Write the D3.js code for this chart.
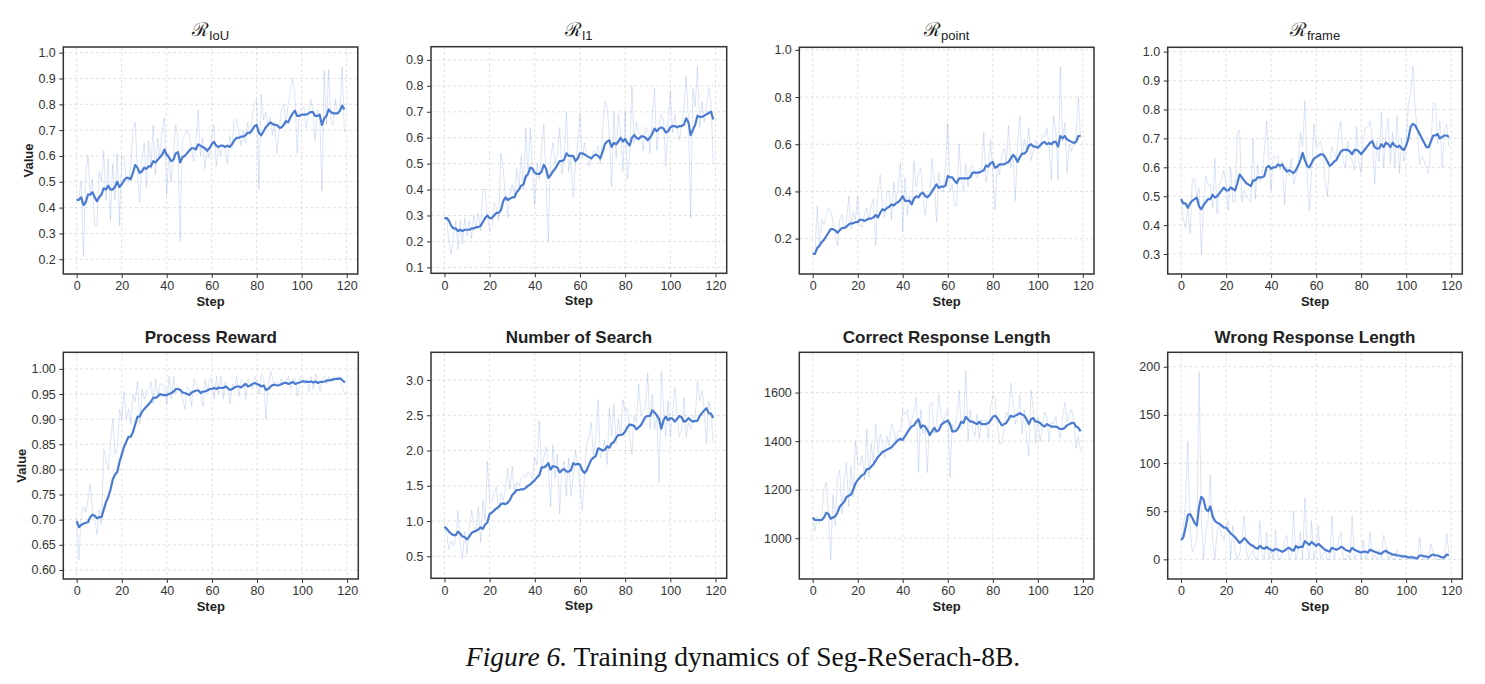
<!DOCTYPE html>
<html><head><meta charset="utf-8">
<script src="https://cdn.jsdelivr.net/npm/d3@7"></script>
<style>body{margin:0;background:#fff}</style></head>
<body>
<svg id="c" width="1485" height="684"></svg>
<script>
const steps = d3.range(120);

const iouRaw = [0.43,0.44,0.50,0.215,0.52,0.60,0.45,0.51,0.33,0.33,
0.54,0.50,0.62,0.43,0.59,0.35,0.57,0.43,0.61,0.33,
0.60,0.59,0.52,0.50,0.56,0.70,0.73,0.55,0.42,0.58,
0.65,0.48,0.66,0.55,0.72,0.53,0.67,0.60,0.70,0.75,
0.45,0.61,0.50,0.59,0.72,0.67,0.27,0.66,0.68,0.70,
0.68,0.63,0.58,0.65,0.78,0.60,0.67,0.55,0.63,0.59,
0.67,0.72,0.56,0.64,0.60,0.64,0.63,0.57,0.68,0.63,
0.74,0.74,0.70,0.64,0.70,0.65,0.73,0.68,0.74,0.81,
0.82,0.47,0.84,0.74,0.77,0.72,0.75,0.68,0.73,0.61,
0.70,0.78,0.80,0.72,0.80,0.85,0.90,0.84,0.61,0.77,
0.78,0.79,0.71,0.75,0.82,0.78,0.66,0.78,0.76,0.465,
0.93,0.72,0.935,0.73,0.72,0.82,0.76,0.78,0.945,0.69];
const iouSmooth = [0.43,0.43,0.44,0.41,0.42,0.45,0.45,0.46,0.44,0.425,
0.44,0.45,0.475,0.47,0.485,0.47,0.47,0.48,0.50,0.48,
0.49,0.505,0.515,0.515,0.51,0.535,0.565,0.555,0.535,0.54,
0.555,0.55,0.56,0.56,0.58,0.575,0.585,0.595,0.605,0.625,
0.605,0.595,0.58,0.585,0.61,0.615,0.575,0.595,0.60,0.61,
0.62,0.63,0.63,0.625,0.645,0.64,0.635,0.63,0.62,0.63,
0.645,0.655,0.64,0.635,0.64,0.64,0.635,0.64,0.635,0.645,
0.66,0.67,0.67,0.675,0.675,0.68,0.69,0.69,0.70,0.715,
0.72,0.69,0.68,0.695,0.71,0.72,0.73,0.725,0.72,0.72,
0.71,0.71,0.72,0.735,0.73,0.75,0.765,0.775,0.755,0.755,
0.76,0.76,0.76,0.765,0.77,0.77,0.755,0.755,0.76,0.72,
0.745,0.755,0.78,0.77,0.765,0.765,0.765,0.775,0.795,0.78];

const l1Raw = [0.29,0.28,0.20,0.15,0.22,0.28,0.17,0.28,0.19,0.29,
0.22,0.28,0.21,0.30,0.25,0.31,0.24,0.40,0.40,0.30,
0.24,0.26,0.35,0.33,0.28,0.54,0.48,0.37,0.29,0.38,
0.42,0.38,0.48,0.41,0.53,0.40,0.64,0.45,0.64,0.46,
0.34,0.50,0.44,0.56,0.65,0.43,0.20,0.52,0.58,0.50,
0.54,0.64,0.46,0.52,0.70,0.47,0.53,0.37,0.50,0.58,
0.69,0.52,0.58,0.53,0.49,0.52,0.55,0.54,0.57,0.50,
0.62,0.74,0.72,0.62,0.41,0.70,0.52,0.69,0.62,0.47,
0.70,0.44,0.54,0.80,0.58,0.66,0.62,0.61,0.55,0.64,
0.63,0.54,0.68,0.79,0.55,0.65,0.69,0.66,0.49,0.66,
0.78,0.62,0.69,0.63,0.59,0.65,0.71,0.84,0.67,0.29,
0.79,0.72,0.875,0.64,0.74,0.66,0.72,0.79,0.74,0.50];
const l1Smooth = [0.29,0.29,0.28,0.26,0.25,0.25,0.24,0.245,0.24,0.245,
0.245,0.245,0.25,0.25,0.255,0.255,0.26,0.275,0.29,0.30,
0.29,0.29,0.30,0.31,0.31,0.32,0.355,0.37,0.36,0.365,
0.37,0.37,0.39,0.40,0.415,0.42,0.45,0.46,0.485,0.48,
0.465,0.46,0.46,0.47,0.495,0.48,0.445,0.455,0.47,0.48,
0.495,0.51,0.51,0.515,0.54,0.53,0.53,0.53,0.51,0.52,
0.54,0.54,0.535,0.53,0.525,0.52,0.53,0.535,0.53,0.52,
0.545,0.575,0.585,0.59,0.565,0.58,0.575,0.585,0.60,0.585,
0.595,0.58,0.57,0.60,0.61,0.60,0.595,0.605,0.605,0.60,
0.59,0.60,0.615,0.635,0.625,0.635,0.64,0.635,0.62,0.625,
0.64,0.645,0.645,0.64,0.645,0.645,0.65,0.675,0.66,0.61,
0.63,0.65,0.685,0.68,0.68,0.685,0.69,0.695,0.70,0.67];

const pointRaw = [0.14,0.13,0.34,0.16,0.28,0.26,0.30,0.33,0.32,0.27,
0.22,0.17,0.28,0.30,0.24,0.27,0.38,0.24,0.31,0.28,
0.38,0.25,0.25,0.30,0.33,0.28,0.34,0.37,0.17,0.40,
0.47,0.34,0.29,0.40,0.40,0.28,0.44,0.36,0.42,0.52,
0.23,0.46,0.30,0.38,0.34,0.53,0.42,0.48,0.50,0.37,
0.30,0.39,0.38,0.54,0.45,0.27,0.48,0.40,0.40,0.51,
0.69,0.40,0.43,0.34,0.34,0.60,0.45,0.40,0.52,0.42,
0.50,0.51,0.47,0.46,0.50,0.49,0.65,0.44,0.50,0.62,
0.48,0.32,0.52,0.47,0.56,0.58,0.52,0.68,0.50,0.55,
0.36,0.60,0.72,0.55,0.62,0.57,0.67,0.53,0.57,0.62,
0.59,0.58,0.64,0.63,0.67,0.59,0.45,0.72,0.65,0.45,
0.93,0.61,0.69,0.48,0.60,0.57,0.60,0.64,0.80,0.63];
const pointSmooth = [0.135,0.135,0.16,0.17,0.185,0.195,0.21,0.225,0.24,0.24,
0.235,0.225,0.235,0.245,0.245,0.25,0.26,0.265,0.265,0.27,
0.27,0.28,0.28,0.275,0.28,0.285,0.285,0.29,0.30,0.29,
0.31,0.325,0.32,0.33,0.335,0.345,0.34,0.35,0.355,0.365,
0.38,0.36,0.36,0.36,0.345,0.37,0.38,0.375,0.39,0.395,
0.38,0.375,0.385,0.40,0.415,0.43,0.415,0.42,0.42,0.425,
0.465,0.46,0.46,0.445,0.435,0.455,0.455,0.455,0.455,0.455,
0.46,0.48,0.48,0.48,0.48,0.485,0.49,0.51,0.505,0.52,
0.525,0.50,0.505,0.515,0.515,0.515,0.52,0.525,0.54,0.555,
0.545,0.525,0.545,0.56,0.56,0.57,0.595,0.60,0.59,0.59,
0.585,0.595,0.605,0.61,0.60,0.605,0.60,0.61,0.61,0.59,
0.635,0.625,0.635,0.62,0.615,0.61,0.605,0.61,0.635,0.635];

const frameRaw = [0.49,0.42,0.39,0.47,0.37,0.56,0.56,0.50,0.53,0.30,
0.48,0.57,0.54,0.54,0.46,0.63,0.44,0.54,0.56,0.59,
0.54,0.45,0.60,0.48,0.48,0.72,0.73,0.48,0.52,0.50,
0.49,0.48,0.70,0.49,0.61,0.55,0.57,0.66,0.76,0.62,
0.52,0.64,0.63,0.64,0.59,0.62,0.47,0.60,0.57,0.63,
0.54,0.57,0.60,0.72,0.67,0.83,0.58,0.45,0.58,0.75,
0.67,0.68,0.69,0.65,0.55,0.50,0.62,0.67,0.65,0.63,
0.72,0.76,0.62,0.60,0.69,0.64,0.62,0.59,0.74,0.61,
0.58,0.70,0.74,0.74,0.76,0.70,0.54,0.69,0.62,0.79,
0.60,0.71,0.77,0.61,0.72,0.60,0.78,0.58,0.70,0.62,
0.68,0.82,0.86,0.95,0.80,0.73,0.61,0.64,0.62,0.60,
0.58,0.68,0.82,0.82,0.68,0.76,0.60,0.73,0.75,0.67];
const frameSmooth = [0.49,0.475,0.475,0.46,0.475,0.485,0.49,0.495,0.465,0.455,
0.47,0.48,0.49,0.49,0.505,0.495,0.50,0.51,0.52,0.53,
0.52,0.52,0.53,0.525,0.52,0.545,0.575,0.565,0.555,0.545,
0.54,0.535,0.555,0.555,0.565,0.565,0.565,0.57,0.60,0.605,
0.595,0.60,0.60,0.61,0.605,0.61,0.595,0.585,0.59,0.585,
0.58,0.59,0.605,0.625,0.65,0.625,0.605,0.60,0.615,0.63,
0.635,0.64,0.645,0.645,0.635,0.62,0.605,0.61,0.62,0.625,
0.64,0.655,0.66,0.66,0.66,0.655,0.645,0.66,0.66,0.655,
0.645,0.655,0.665,0.675,0.685,0.69,0.67,0.665,0.665,0.68,
0.67,0.685,0.68,0.67,0.685,0.675,0.67,0.675,0.665,0.66,
0.675,0.70,0.74,0.75,0.745,0.73,0.715,0.70,0.685,0.67,
0.67,0.69,0.71,0.71,0.715,0.70,0.705,0.71,0.71,0.705];

const procRaw = [0.70,0.62,0.71,0.725,0.715,0.74,0.77,0.72,0.70,0.67,
0.72,0.69,0.84,0.82,0.80,0.85,0.90,0.83,0.84,0.92,
0.90,0.955,0.90,0.92,0.89,0.95,0.935,0.975,0.89,0.96,
0.94,0.955,0.96,0.975,0.93,0.98,0.945,0.97,0.97,0.965,
0.93,0.985,0.94,0.985,0.95,0.965,0.96,0.94,0.92,0.965,
0.96,0.925,0.98,0.97,0.96,0.95,0.925,0.98,0.955,0.98,
0.98,0.94,0.985,0.95,0.985,0.94,0.975,0.965,0.93,0.97,
0.96,0.985,0.945,0.98,0.975,0.94,0.98,0.97,0.96,0.985,
0.975,0.95,0.99,0.98,0.90,0.97,0.995,0.98,0.97,0.975,
0.965,0.98,0.97,0.975,0.985,0.96,0.98,0.98,0.945,0.985,
0.98,0.97,0.98,0.955,0.985,0.96,0.99,0.975,0.955,0.98,
0.985,0.97,0.985,0.975,0.985,0.98,0.985,0.975,0.96,0.95];
const procSmooth = [0.697,0.685,0.69,0.692,0.694,0.695,0.705,0.71,0.708,0.703,
0.705,0.705,0.72,0.735,0.745,0.76,0.78,0.79,0.795,0.815,
0.83,0.845,0.855,0.865,0.865,0.875,0.89,0.905,0.905,0.915,
0.92,0.925,0.93,0.935,0.943,0.942,0.945,0.95,0.948,0.948,
0.948,0.95,0.952,0.955,0.96,0.96,0.958,0.953,0.952,0.95,
0.948,0.953,0.955,0.957,0.957,0.952,0.955,0.955,0.957,0.96,
0.96,0.962,0.96,0.963,0.962,0.962,0.965,0.962,0.958,0.96,
0.963,0.965,0.965,0.963,0.967,0.97,0.965,0.967,0.97,0.972,
0.97,0.968,0.965,0.967,0.958,0.96,0.965,0.968,0.968,0.967,
0.968,0.97,0.972,0.972,0.97,0.972,0.974,0.97,0.972,0.973,
0.975,0.975,0.974,0.974,0.975,0.973,0.975,0.972,0.974,0.974,
0.975,0.977,0.977,0.978,0.979,0.98,0.98,0.981,0.977,0.973];

const searchRaw = [0.92,0.80,0.60,0.72,0.65,0.78,1.15,0.70,0.47,0.85,
0.53,0.90,1.15,0.95,0.85,1.20,0.70,1.30,1.00,1.85,
1.30,1.28,1.40,1.48,1.15,1.40,1.30,1.45,1.75,1.45,
1.78,1.40,1.55,1.50,1.60,1.65,1.62,1.70,1.68,1.60,
1.90,1.80,2.42,1.70,1.90,2.05,1.80,1.20,2.08,1.60,
1.95,1.10,1.75,1.85,1.35,1.90,1.35,1.60,2.00,1.80,
1.50,1.15,1.60,2.10,2.20,2.40,1.90,2.20,2.72,1.90,
2.00,2.15,1.80,2.60,2.20,2.65,2.10,2.45,2.20,2.72,
2.55,2.60,2.20,1.95,2.50,2.40,2.95,2.50,2.55,2.60,
3.10,2.30,2.80,2.30,2.50,1.55,3.12,2.60,2.20,2.70,
2.20,2.50,2.90,2.50,2.20,2.30,2.75,2.20,2.40,2.30,
2.50,2.45,2.98,2.70,2.85,2.60,2.10,2.70,2.55,2.10];
const searchSmooth = [0.92,0.89,0.85,0.82,0.80,0.80,0.85,0.82,0.78,0.77,
0.74,0.78,0.83,0.85,0.86,0.88,0.91,0.89,0.95,0.98,
1.10,1.12,1.15,1.18,1.20,1.24,1.25,1.24,1.26,1.30,
1.37,1.40,1.44,1.44,1.45,1.45,1.47,1.50,1.52,1.55,
1.58,1.62,1.65,1.76,1.76,1.78,1.82,1.73,1.78,1.77,
1.76,1.69,1.72,1.74,1.70,1.70,1.72,1.82,1.80,1.81,
1.80,1.72,1.68,1.72,1.80,1.87,1.90,1.92,2.03,2.02,
2.00,2.01,2.06,2.04,2.10,2.12,2.18,2.22,2.22,2.23,
2.27,2.33,2.37,2.36,2.35,2.30,2.33,2.36,2.42,2.48,
2.49,2.49,2.57,2.54,2.50,2.45,2.31,2.43,2.48,2.43,
2.46,2.45,2.41,2.45,2.49,2.47,2.41,2.42,2.46,2.43,
2.41,2.42,2.42,2.49,2.53,2.57,2.60,2.53,2.52,2.46];

const correctRaw = [1080,1030,1090,1060,1090,1200,1230,1100,910,1180,
1050,1250,1280,1100,1250,1310,1130,1300,1170,1400,
1310,1300,1340,1240,1450,1250,1390,1310,1470,1350,
1430,1390,1330,1420,1380,1470,1450,1400,1440,1440,
1530,1510,1530,1460,1490,1520,1580,1270,1530,1430,
1460,1270,1550,1560,1430,1470,1590,1510,1480,1510,
1530,1250,1470,1450,1500,1610,1450,1460,1690,1400,
1530,1450,1420,1510,1410,1490,1480,1490,1410,1540,
1590,1580,1470,1390,1390,1450,1520,1500,1640,1560,
1470,1500,1590,1430,1530,1410,1340,1610,1530,1390,
1500,1400,1450,1520,1500,1400,1480,1470,1500,1450,
1410,1500,1560,1480,1510,1530,1480,1370,1420,1360];
const correctSmooth = [1085,1075,1075,1075,1075,1085,1105,1100,1080,1085,
1090,1105,1130,1140,1150,1170,1175,1180,1200,1225,
1240,1250,1260,1265,1285,1285,1295,1305,1320,1335,
1345,1355,1360,1365,1370,1375,1385,1395,1405,1410,
1405,1420,1435,1450,1460,1465,1480,1490,1455,1465,
1460,1445,1425,1440,1455,1440,1445,1465,1475,1480,
1485,1470,1440,1440,1445,1460,1480,1475,1500,1490,
1480,1480,1475,1470,1480,1470,1470,1470,1475,1485,
1500,1505,1495,1480,1465,1470,1475,1490,1505,1500,
1505,1510,1515,1510,1505,1490,1470,1490,1495,1480,
1480,1475,1465,1460,1470,1465,1460,1460,1460,1455,
1450,1450,1455,1465,1470,1475,1475,1460,1455,1440];

const wrongRaw = [20,30,60,123,30,8,12,20,195,40,
0,30,40,88,20,0,30,38,25,20,
30,40,0,35,10,0,5,20,45,10,
0,5,10,0,0,40,5,0,28,0,
10,0,30,0,0,5,20,25,0,5,
50,0,10,28,0,64,15,0,40,0,
10,35,0,5,10,0,0,45,0,10,
20,28,0,0,5,0,45,0,5,10,
0,20,0,5,28,0,5,0,10,0,
25,15,0,5,0,0,10,0,0,5,
0,0,5,0,0,0,23,0,0,0,
0,16,8,0,0,0,0,0,27,5];
const wrongSmooth = [20,23,33,46,47,43,38,35,55,65,
62,52,50,55,45,40,38,37,35,33,
33,30,27,25,23,20,17,19,22,20,
17,15,14,12,11,14,12,11,13,11,
10,9,11,10,9,8,9,11,12,10,
9,14,12,13,13,19,17,15,18,16,
14,16,14,12,10,9,8,12,11,10,
11,13,12,10,9,8,12,10,9,8,
7,8,8,7,10,9,8,7,6,6,
8,9,7,6,5,5,4,4,3,3,
3,2,2,2,1.5,1,4,4,3,3,
2,4,5,4,4,3,2,2,5,4];

const xTicks = [0,20,40,60,80,100,120];
const iouTicks = [0.2,0.3,0.4,0.5,0.6,0.7,0.8,0.9,1.0];
const l1Ticks = [0.1,0.2,0.3,0.4,0.5,0.6,0.7,0.8,0.9];
const pointTicks = [0.2,0.4,0.6,0.8,1.0];
const frameTicks = [0.3,0.4,0.5,0.6,0.7,0.8,0.9,1.0];
const procTicks = [0.60,0.65,0.70,0.75,0.80,0.85,0.90,0.95,1.00];
const searchTicks = [0.5,1.0,1.5,2.0,2.5,3.0];
const correctTicks = [1000,1200,1400,1600];
const wrongTicks = [0,50,100,150,200];

const panels = [
 {raw:iouRaw, sm:iouSmooth, math:true, sub:"IoU", yt:iouTicks, fmt:d3.format(".1f"), x0:63.3, x1:357.8, y0:47, y1:274, yd:[0.143,1.022], ylab:true},
 {raw:l1Raw, sm:l1Smooth, math:true, sub:"l1", yt:l1Ticks, fmt:d3.format(".1f"), x0:431, x1:726.7, y0:46.7, y1:273.3, yd:[0.077,0.951]},
 {raw:pointRaw, sm:pointSmooth, math:true, sub:"point", yt:pointTicks, fmt:d3.format(".1f"), x0:799.3, x1:1094, y0:47.3, y1:274, yd:[0.050,1.011]},
 {raw:frameRaw, sm:frameSmooth, math:true, sub:"frame", yt:frameTicks, fmt:d3.format(".1f"), x0:1167.7, x1:1462.3, y0:47.3, y1:274, yd:[0.231,1.015]},
 {raw:procRaw, sm:procSmooth, title:"Process Reward", yt:procTicks, fmt:d3.format(".2f"), x0:63.3, x1:358.3, y0:352.3, y1:579, yd:[0.582,1.033], ylab:true},
 {raw:searchRaw, sm:searchSmooth, title:"Number of Search", yt:searchTicks, fmt:d3.format(".1f"), x0:431, x1:726.7, y0:352.3, y1:578.3, yd:[0.188,3.393]},
 {raw:correctRaw, sm:correctSmooth, title:"Correct Response Length", yt:correctTicks, fmt:d3.format("d"), x0:799.3, x1:1094, y0:352.3, y1:579, yd:[832,1766]},
 {raw:wrongRaw, sm:wrongSmooth, title:"Wrong Response Length", yt:wrongTicks, fmt:d3.format("d"), x0:1167.7, x1:1462.3, y0:352.3, y1:579, yd:[-20.4,215]}
];

const svg = d3.select("#c");
const BLUE = "#4a7bd0";
const SANS = "'Liberation Sans', Arial, Helvetica, sans-serif";

panels.forEach((p, k) => {
  const x = d3.scaleLinear().domain([-5.95,124.95]).range([p.x0,p.x1]);
  const y = d3.scaleLinear().domain(p.yd).range([p.y1,p.y0]);
  const g = svg.append("g");
  g.selectAll(".gx").data(xTicks).join("line")
    .attr("x1",d=>x(d)).attr("x2",d=>x(d)).attr("y1",p.y0).attr("y2",p.y1)
    .attr("stroke","#d9d9d9").attr("stroke-width",0.8).attr("stroke-dasharray","3,2.5");
  g.selectAll(".gy").data(p.yt).join("line")
    .attr("x1",p.x0).attr("x2",p.x1).attr("y1",d=>y(d)).attr("y2",d=>y(d))
    .attr("stroke","#d9d9d9").attr("stroke-width",0.8).attr("stroke-dasharray","3,2.5");
  const line = (arr) => d3.line().x((d,i)=>x(steps[i])).y(d=>y(d))(arr);
  const clipId = "clip" + k;
  svg.append("clipPath").attr("id",clipId).append("rect")
    .attr("x",p.x0).attr("y",p.y0).attr("width",p.x1-p.x0).attr("height",p.y1-p.y0);
  const cg = g.append("g").attr("clip-path","url(#"+clipId+")");
  cg.append("path").attr("d",line(p.raw)).attr("fill","none")
    .attr("stroke",BLUE).attr("stroke-opacity",0.2).attr("stroke-width",1);
  cg.append("path").attr("d",line(p.sm)).attr("fill","none")
    .attr("stroke",BLUE).attr("stroke-width",2.2).attr("stroke-linejoin","round");
  const ax = g.append("g").attr("transform",`translate(0,${p.y1})`)
    .call(d3.axisBottom(x).tickValues(xTicks).tickSize(4).tickPadding(3.5));
  const ay = g.append("g").attr("transform",`translate(${p.x0},0)`)
    .call(d3.axisLeft(y).tickValues(p.yt).tickFormat(p.fmt).tickSize(4).tickPadding(3.5));
  [ax,ay].forEach(a=>{
    a.select(".domain").remove();
    a.selectAll("line").attr("stroke","#333").attr("stroke-width",1);
    a.selectAll("text").attr("fill","#333").style("font-family",SANS).style("font-size","12.5px");
  });
  g.append("rect").attr("x",p.x0).attr("y",p.y0).attr("width",p.x1-p.x0).attr("height",p.y1-p.y0)
    .attr("fill","none").attr("stroke","#333").attr("stroke-width",1.5);
  const cx = (p.x0+p.x1)/2;
  g.append("text").attr("x",cx).attr("y",p.y1+32).attr("text-anchor","middle")
    .style("font-family",SANS).style("font-size","13px").style("font-weight","bold").attr("fill","#222").text("Step");
  if (p.ylab) {
    const ycen = (p.y0+p.y1)/2;
    const lx = p.title ? 26 : 33;
    g.append("text").attr("transform",`translate(${lx},${ycen}) rotate(-90)`).attr("text-anchor","middle")
      .style("font-family",SANS).style("font-size","13px").style("font-weight","bold").attr("fill","#222").text("Value");
  }
  if (p.math) {
    const t = g.append("text").attr("x",cx).attr("y",p.y0-11).attr("text-anchor","middle").attr("fill","#222");
    t.append("tspan").style("font-family","'DejaVu Serif', serif").style("font-size","19px").text("ℛ");
    t.append("tspan").attr("dy",4).style("font-family",SANS).style("font-size","13px").text(p.sub);
  } else {
    g.append("text").attr("x",cx).attr("y",p.y0-9).attr("text-anchor","middle")
      .style("font-family",SANS).style("font-size","17px").style("font-weight","bold").attr("fill","#222").text(p.title);
  }
});

const cap = svg.append("text").attr("x",743).attr("y",666).attr("text-anchor","middle")
  .style("font-family","'Liberation Serif', 'Times New Roman', serif").style("font-size","27.5px").attr("fill","#111");
cap.append("tspan").style("font-style","italic").text("Figure 6.");
cap.append("tspan").text(" Training dynamics of Seg-ReSerach-8B.");
</script>
</body></html>
